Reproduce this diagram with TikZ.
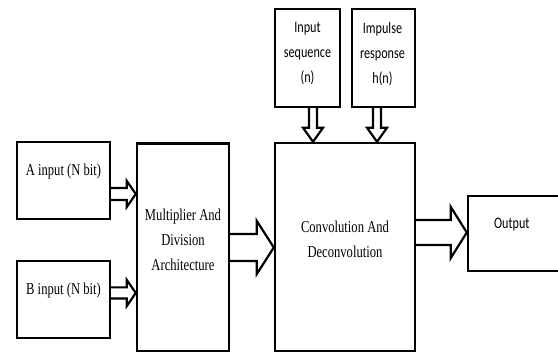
\documentclass[tikz,border=0pt]{standalone}
\usepackage{fontspec}
\setmainfont{Liberation Serif}[FakeStretch=0.76]
\newfontfamily\calibrifont{Carlito}[FakeStretch=0.76]
\usetikzlibrary{positioning,calc}
\tikzset{
  box/.style={draw=black,line width=1.2pt,fill=white,inner sep=0pt},
  blockflow/.style={draw=black,line width=1.1pt,fill=white,line join=miter},
  serifnote/.style={align=center,font=\fontsize{8.3}{12.5}\selectfont},
  sansnote/.style={align=center,font=\calibrifont\fontsize{8}{12.5}\selectfont}
}
\newcommand{\blockarrow}[5]{%
  \coordinate (ba-s) at (#1);
  \coordinate (ba-t) at (#2);
  \coordinate (ba-h) at ($(ba-t)!#5!(ba-s)$);
  \draw[blockflow] ($(ba-s)!#3!90:(ba-t)$) -- ($(ba-h)!#3!90:(ba-t)$)
    -- ($(ba-h)!#4!90:(ba-t)$) -- (ba-t) -- ($(ba-h)!#4!-90:(ba-t)$)
    -- ($(ba-h)!#3!-90:(ba-t)$) -- ($(ba-s)!#3!-90:(ba-t)$);
}
\begin{document}
\begin{tikzpicture}[x=0.5pt,y=0.5pt]
  \useasboundingbox (0,0) rectangle (558,352);
  \clip (0,0) rectangle (558,352);
  \node[box,minimum width=46.5pt,minimum height=38.5pt] (ina) at (63.5,171.5) {};
  \node[box,minimum width=46.5pt,minimum height=38.5pt] (inb) at (63.5,52.5) {};
  \node[box,minimum width=46pt,minimum height=104pt] (mult) at (183,104.5) {};
  \node[box,minimum width=70pt,minimum height=104pt] (conv) at (345,105) {};
  \node[box,minimum width=32.5pt,minimum height=49pt] (inseq) at (307.5,294) {};
  \node[box,minimum width=31.5pt,minimum height=49pt] (imp) at (383.5,294) {};
  \node[box,minimum width=56pt,minimum height=37.5pt] (out) at (524,118.5) {};
  \node[serifnote] (ina-text) at ($(ina.center)+(0,8.5)$) {A input (N bit)};
  \node[serifnote] (inb-text) at ($(inb.center)+(0,8.5)$) {B input (N bit)};
  \node[serifnote] (mult-text) at ($(mult.center)+(0,7.5)$) {Multiplier And\\Division\\Architecture};
  \node[serifnote] (conv-text) at ($(conv.center)+(0,7.5)$) {Convolution And\\Deconvolution};
  \node[sansnote] (inseq-text) at ($(inseq.center)+(0,5)$) {Input\\sequence\\(n)};
  \node[sansnote] (imp-text) at ($(imp.center)+(-1,4)$) {Impulse\\response\\h(n)};
  \node[sansnote] (out-text) at ($(out.west)+(45,8.5)$) {Output};
  \coordinate (a-out) at ($(ina.east)+(0,-13.5)$);
  \coordinate (b-out) at ($(inb.east)+(0,6.5)$);
  \coordinate (seq-out) at ($(inseq.south)+(5.5,0)$);
  \coordinate (imp-out) at ($(imp.south)+(-6.5,0)$);
  \coordinate (conv-out) at ($(conv.east)+(0,14.5)$);
  \blockarrow{a-out}{mult.west |- a-out}{3pt}{6.5pt}{4.5pt}
  \blockarrow{b-out}{mult.west |- b-out}{2.8pt}{6.5pt}{4.5pt}
  \blockarrow{mult.east}{conv.west |- mult.east}{6.75pt}{13.25pt}{8.5pt}
  \blockarrow{seq-out}{seq-out |- conv.north}{2pt}{5pt}{7pt}
  \blockarrow{imp-out}{imp-out |- conv.north}{2pt}{5pt}{7pt}
  \blockarrow{conv-out}{out.west |- conv-out}{6.25pt}{12.75pt}{8pt}
\end{tikzpicture}
\end{document}
